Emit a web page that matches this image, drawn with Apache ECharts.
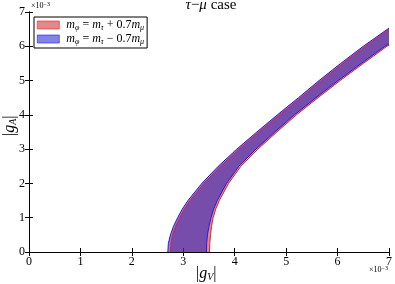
<!DOCTYPE html>
<html><head><meta charset="utf-8">
<script src="https://cdn.jsdelivr.net/npm/echarts@6/dist/echarts.min.js"></script>
<style>html,body{margin:0;padding:0;background:#fff}#c{width:395px;height:284px}</style>
</head><body><div id="c"></div>
<script>
// ticks
const xTicks = [0, 1, 2, 3, 4, 5, 6, 7];
const yTicks = [0, 1, 2, 3, 4, 5, 6, 7];
// blue band (m_phi = m_tau - 0.7 m_mu), units of 1e-3
const blueUpperX = [2.70, 2.71, 2.75, 2.81, 2.89, 2.98, 3.09, 3.36, 3.68, 4.04, 4.43, 4.83, 5.24, 5.64, 6.06, 6.50, 7.00];
const blueUpperY = [0.00, 0.25, 0.50, 0.75, 1.00, 1.25, 1.50, 2.00, 2.50, 3.00, 3.50, 4.00, 4.50, 5.00, 5.50, 6.00, 6.53];
const blueLowerX = [3.45, 3.455, 3.47, 3.50, 3.54, 3.59, 3.66, 3.84, 4.08, 4.41, 4.78, 5.16, 5.58, 6.01, 6.46, 6.92, 7.00];
const blueLowerY = [0.00, 0.25, 0.50, 0.75, 1.00, 1.25, 1.50, 2.00, 2.50, 3.00, 3.50, 4.00, 4.50, 5.00, 5.50, 6.00, 6.07];
// red band (m_phi = m_tau + 0.7 m_mu)
const redUpperX = [2.75, 2.76, 2.79, 2.85, 2.93, 3.02, 3.13, 3.40, 3.72, 4.08, 4.47, 4.87, 5.28, 5.68, 6.10, 6.54, 7.00];
const redUpperY = [0.00, 0.25, 0.50, 0.75, 1.00, 1.25, 1.50, 2.00, 2.50, 3.00, 3.50, 4.00, 4.50, 5.00, 5.50, 6.00, 6.49];
const redLowerX = [3.51, 3.515, 3.53, 3.55, 3.58, 3.63, 3.70, 3.88, 4.12, 4.45, 4.82, 5.20, 5.62, 6.05, 6.50, 6.96, 7.00];
const redLowerY = [0.00, 0.25, 0.50, 0.75, 1.00, 1.25, 1.50, 2.00, 2.50, 3.00, 3.50, 4.00, 4.50, 5.00, 5.50, 6.00, 6.03];

const SERIF = "'Liberation Serif','DejaVu Serif',serif";
const redFill = 'rgba(205,40,40,0.55)';
const blueFill = 'rgba(30,30,200,0.55)';
const redEdge = '#e52020';
const blueEdge = '#1a1aff';

function zip(xs, ys) { return xs.map((x, i) => [x, ys[i]]); }
function band(ux, uy, lx, ly, fill) {
  return function (params, api) {
    const pts = [];
    for (let i = 0; i < ux.length; i++) pts.push(api.coord([ux[i], uy[i]]));
    for (let i = lx.length - 1; i >= 0; i--) pts.push(api.coord([lx[i], ly[i]]));
    return { type: 'polygon', shape: { points: pts }, style: { fill: fill } };
  };
}
function edge(xs, ys, color) {
  return { type: 'line', data: zip(xs, ys), showSymbol: false, symbol: 'none', smooth: false,
    lineStyle: { color: color, width: 1 }, silent: true, z: 5, legendHoverLink: false };
}
const sub = { fontFamily: SERIF, fontSize: 8, fontStyle: 'italic', verticalAlign: 'bottom', padding: [6, 0, 0, 0] };
const it = { fontFamily: SERIF, fontSize: 12, fontStyle: 'italic' };
const tx = { fontFamily: SERIF, fontSize: 12 };

const axisCommon = {
  type: 'value', min: 0, max: 7, interval: 1,
  axisLine: { show: true, lineStyle: { color: '#000', width: 1 } },
  axisTick: { show: true, inside: true, length: 4, lineStyle: { color: '#000' } },
  splitLine: { show: false }
};

const chart = echarts.init(document.getElementById('c'), null, { renderer: 'canvas' });
chart.setOption({
  animation: false,
  grid: { left: 29, right: 3, top: 12, bottom: 32, containLabel: false },
  xAxis: [
    Object.assign({}, axisCommon, { position: 'bottom',
      axisLabel: { color: '#000', fontFamily: SERIF, fontSize: 12, margin: 4,
        formatter: v => xTicks.includes(v) ? String(v) : '' } }),
    Object.assign({}, axisCommon, { position: 'top', axisLabel: { show: false } })
  ],
  yAxis: [
    Object.assign({}, axisCommon, { position: 'left',
      axisLabel: { color: '#000', fontFamily: SERIF, fontSize: 12, margin: 4,
        formatter: v => yTicks.includes(v) ? String(v) : '' } }),
    Object.assign({}, axisCommon, { position: 'right', axisLabel: { show: false } })
  ],
  legend: {
    data: ['red', 'blue'], orient: 'vertical', left: 34, top: 17,
    backgroundColor: '#fff', borderColor: '#000', borderWidth: 1, borderRadius: 0,
    padding: [2, 3, 2, 3], itemGap: 1, itemWidth: 22, itemHeight: 8, icon: 'rect',
    itemStyle: { borderWidth: 0.6 },
    textStyle: { color: '#000', fontFamily: SERIF, fontSize: 12, padding: [0, 0, 0, 2],
      rich: { i: it, s: sub, t: tx } },
    formatter: function (n) {
      return n === 'red'
        ? '{i|m}{s|φ}{t| = }{i|m}{s|τ}{t| + 0.7}{i|m}{s|μ}'
        : '{i|m}{s|φ}{t| = }{i|m}{s|τ}{t| − 0.7}{i|m}{s|μ}';
    }
  },
  series: [
    { type: 'custom', name: 'red', coordinateSystem: 'cartesian2d', data: [[0, 0]],
      renderItem: band(redUpperX, redUpperY, redLowerX, redLowerY, redFill),
      itemStyle: { color: redFill, borderColor: redEdge, borderWidth: 0.6 }, z: 2, silent: true },
    { type: 'custom', name: 'blue', coordinateSystem: 'cartesian2d', data: [[0, 0]],
      renderItem: band(blueUpperX, blueUpperY, blueLowerX, blueLowerY, blueFill),
      itemStyle: { color: blueFill, borderColor: blueEdge, borderWidth: 0.6 }, z: 3, silent: true },
    edge(blueUpperX, blueUpperY, blueEdge),
    edge(blueLowerX, blueLowerY, blueEdge),
    edge(redUpperX, redUpperY, redEdge),
    edge(redLowerX, redLowerY, redEdge)
  ],
  graphic: [
    { type: 'text', x: 211, y: -2, style: {
        text: '{i|τ}{t|−}{i|μ}{t| case}', align: 'center',
        rich: { i: { fontFamily: SERIF, fontSize: 15, fontStyle: 'italic' }, t: { fontFamily: SERIF, fontSize: 15 } } } },
    { type: 'text', left: 31, top: 1, style: {
        text: '{t|×10}{s|−3}', rich: { t: { fontFamily: SERIF, fontSize: 8, fill: '#000' }, s: { fontFamily: SERIF, fontSize: 6, verticalAlign: 'top', padding: [0, 0, 4, 0] } } } },
    { type: 'text', left: 369, top: 265, style: {
        text: '{t|×10}{s|−3}', rich: { t: { fontFamily: SERIF, fontSize: 8 }, s: { fontFamily: SERIF, fontSize: 6, verticalAlign: 'top', padding: [0, 0, 4, 0] } } } },
    { type: 'text', left: 196, top: 266, style: {
        text: '{t||}{i|g}{s|V}{t||}', rich: { t: { fontFamily: SERIF, fontSize: 16 }, i: { fontFamily: SERIF, fontSize: 16, fontStyle: 'italic' }, s: { fontFamily: SERIF, fontSize: 10, fontStyle: 'italic', verticalAlign: 'bottom', padding: [7, 0, 0, 0] } } } },
    { type: 'text', x: 1, y: 136, rotation: Math.PI / 2, style: {
        text: '{t||}{i|g}{s|A}{t||}', rich: { t: { fontFamily: SERIF, fontSize: 16 }, i: { fontFamily: SERIF, fontSize: 16, fontStyle: 'italic' }, s: { fontFamily: SERIF, fontSize: 10, fontStyle: 'italic', verticalAlign: 'bottom', padding: [7, 0, 0, 0] } } } }
  ]
});
</script></body></html>
